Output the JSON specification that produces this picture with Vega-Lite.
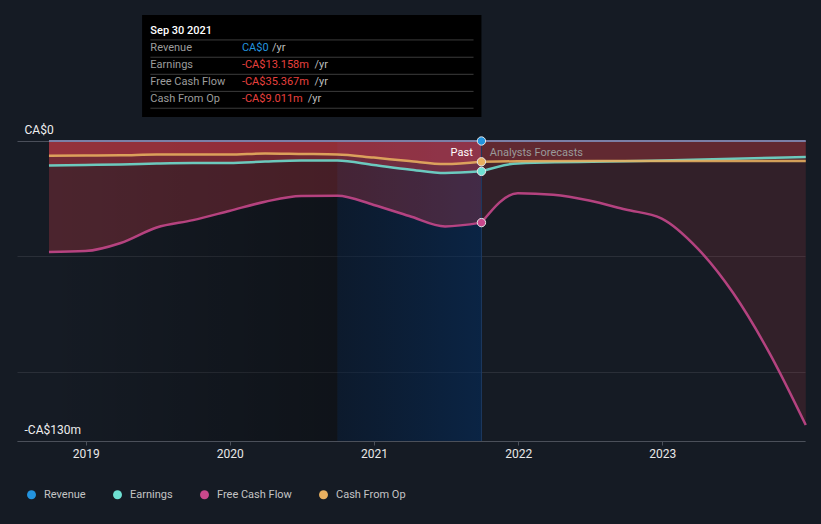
{
  "$schema": "https://vega.github.io/schema/vega-lite/v6.json",
  "width": 788,
  "height": 426,
  "autosize": "none",
  "padding": {"left": 17, "top": 15, "right": 16, "bottom": 83},
  "background": "#151b24",
  "config": {
    "view": {"stroke": null},
    "font": "Roboto",
    "text": {"font": "Roboto"}
  },
  "datasets": {
    "series": [
      {"date": "2018-09-30", "series": "Free Cash Flow", "value": -48.1, "phase": "past"},
      {"date": "2018-12-31", "series": "Free Cash Flow", "value": -47.7, "phase": "past"},
      {"date": "2019-03-31", "series": "Free Cash Flow", "value": -44.2, "phase": "past"},
      {"date": "2019-06-30", "series": "Free Cash Flow", "value": -37.5, "phase": "past"},
      {"date": "2019-09-30", "series": "Free Cash Flow", "value": -34.3, "phase": "past"},
      {"date": "2019-12-31", "series": "Free Cash Flow", "value": -30.3, "phase": "past"},
      {"date": "2020-03-31", "series": "Free Cash Flow", "value": -26.3, "phase": "past"},
      {"date": "2020-06-30", "series": "Free Cash Flow", "value": -23.8, "phase": "past"},
      {"date": "2020-09-30", "series": "Free Cash Flow", "value": -23.7, "phase": "past"},
      {"date": "2020-12-31", "series": "Free Cash Flow", "value": -27.7, "phase": "past"},
      {"date": "2021-03-31", "series": "Free Cash Flow", "value": -32.5, "phase": "past"},
      {"date": "2021-06-30", "series": "Free Cash Flow", "value": -37.0, "phase": "past"},
      {"date": "2021-09-30", "series": "Free Cash Flow", "value": -35.367, "phase": "past"},
      {"date": "2018-09-30", "series": "Earnings", "value": -10.6, "phase": "past"},
      {"date": "2018-12-31", "series": "Earnings", "value": -10.4, "phase": "past"},
      {"date": "2019-03-31", "series": "Earnings", "value": -10.2, "phase": "past"},
      {"date": "2019-06-30", "series": "Earnings", "value": -9.75, "phase": "past"},
      {"date": "2019-09-30", "series": "Earnings", "value": -9.5, "phase": "past"},
      {"date": "2019-12-31", "series": "Earnings", "value": -9.5, "phase": "past"},
      {"date": "2020-03-31", "series": "Earnings", "value": -8.9, "phase": "past"},
      {"date": "2020-06-30", "series": "Earnings", "value": -8.5, "phase": "past"},
      {"date": "2020-09-30", "series": "Earnings", "value": -8.5, "phase": "past"},
      {"date": "2020-12-31", "series": "Earnings", "value": -10.4, "phase": "past"},
      {"date": "2021-03-31", "series": "Earnings", "value": -12.3, "phase": "past"},
      {"date": "2021-06-30", "series": "Earnings", "value": -13.9, "phase": "past"},
      {"date": "2021-09-30", "series": "Earnings", "value": -13.158, "phase": "past"},
      {"date": "2018-09-30", "series": "Cash From Op", "value": -6.4, "phase": "past"},
      {"date": "2018-12-31", "series": "Cash From Op", "value": -6.3, "phase": "past"},
      {"date": "2019-03-31", "series": "Cash From Op", "value": -6.2, "phase": "past"},
      {"date": "2019-06-30", "series": "Cash From Op", "value": -5.85, "phase": "past"},
      {"date": "2019-09-30", "series": "Cash From Op", "value": -5.85, "phase": "past"},
      {"date": "2019-12-31", "series": "Cash From Op", "value": -5.9, "phase": "past"},
      {"date": "2020-03-31", "series": "Cash From Op", "value": -5.4, "phase": "past"},
      {"date": "2020-06-30", "series": "Cash From Op", "value": -5.6, "phase": "past"},
      {"date": "2020-09-30", "series": "Cash From Op", "value": -5.8, "phase": "past"},
      {"date": "2020-12-31", "series": "Cash From Op", "value": -7.2, "phase": "past"},
      {"date": "2021-03-31", "series": "Cash From Op", "value": -8.7, "phase": "past"},
      {"date": "2021-06-30", "series": "Cash From Op", "value": -10.0, "phase": "past"},
      {"date": "2021-09-30", "series": "Cash From Op", "value": -9.011, "phase": "past"},
      {"date": "2018-09-30", "series": "Revenue", "value": 0, "phase": "past"},
      {"date": "2021-09-30", "series": "Revenue", "value": 0, "phase": "past"},
      {"date": "2021-09-30", "series": "Free Cash Flow", "value": -35.367, "phase": "forecast"},
      {"date": "2021-12-31", "series": "Free Cash Flow", "value": -22.6, "phase": "forecast"},
      {"date": "2022-03-31", "series": "Free Cash Flow", "value": -23.3, "phase": "forecast"},
      {"date": "2022-06-30", "series": "Free Cash Flow", "value": -25.8, "phase": "forecast"},
      {"date": "2022-09-30", "series": "Free Cash Flow", "value": -29.7, "phase": "forecast"},
      {"date": "2022-12-31", "series": "Free Cash Flow", "value": -33.6, "phase": "forecast"},
      {"date": "2023-03-31", "series": "Free Cash Flow", "value": -46.4, "phase": "forecast"},
      {"date": "2023-06-30", "series": "Free Cash Flow", "value": -65.9, "phase": "forecast"},
      {"date": "2023-09-30", "series": "Free Cash Flow", "value": -91.9, "phase": "forecast"},
      {"date": "2023-12-31", "series": "Free Cash Flow", "value": -123.1, "phase": "forecast"},
      {"date": "2021-09-30", "series": "Earnings", "value": -13.158, "phase": "forecast"},
      {"date": "2021-12-31", "series": "Earnings", "value": -9.7, "phase": "forecast"},
      {"date": "2022-12-31", "series": "Earnings", "value": -8.5, "phase": "forecast"},
      {"date": "2023-12-31", "series": "Earnings", "value": -6.9, "phase": "forecast"},
      {"date": "2021-09-30", "series": "Cash From Op", "value": -9.011, "phase": "forecast"},
      {"date": "2021-12-31", "series": "Cash From Op", "value": -8.8, "phase": "forecast"},
      {"date": "2022-12-31", "series": "Cash From Op", "value": -8.7, "phase": "forecast"},
      {"date": "2023-12-31", "series": "Cash From Op", "value": -8.7, "phase": "forecast"},
      {"date": "2021-09-30", "series": "Revenue", "value": 0, "phase": "forecast"},
      {"date": "2023-12-31", "series": "Revenue", "value": 0, "phase": "forecast"}
    ],
    "current": [
      {"date": "2021-09-30", "series": "Revenue", "value": 0},
      {"date": "2021-09-30", "series": "Earnings", "value": -13.158},
      {"date": "2021-09-30", "series": "Free Cash Flow", "value": -35.367},
      {"date": "2021-09-30", "series": "Cash From Op", "value": -9.011}
    ],
    "tipText": [
      {"x": "2019-06-14", "y": 47.8, "text": "Sep 30 2021", "kind": "title"},
      {"x": "2019-06-14", "y": 40.2, "text": "Revenue", "kind": "label"},
      {"x": "2019-06-14", "y": 32.9, "text": "Earnings", "kind": "label"},
      {"x": "2019-06-14", "y": 25.6, "text": "Free Cash Flow", "kind": "label"},
      {"x": "2019-06-14", "y": 18.3, "text": "Cash From Op", "kind": "label"},
      {"x": "2020-02-01", "y": 40.2, "text": "CA$0", "kind": "pos"},
      {"x": "2020-02-01", "y": 32.9, "text": "-CA$13.158m", "kind": "neg"},
      {"x": "2020-02-01", "y": 25.6, "text": "-CA$35.367m", "kind": "neg"},
      {"x": "2020-02-01", "y": 18.3, "text": "-CA$9.011m", "kind": "neg"},
      {"x": "2020-04-17", "y": 40.2, "text": "/yr", "kind": "unit"},
      {"x": "2020-08-03", "y": 32.9, "text": "/yr", "kind": "unit"},
      {"x": "2020-08-03", "y": 25.6, "text": "/yr", "kind": "unit"},
      {"x": "2020-07-17", "y": 18.3, "text": "/yr", "kind": "unit"}
    ],
    "tipLines": [
      {"x": "2019-06-14", "x2": "2021-09-10", "y": 43.8},
      {"x": "2019-06-14", "x2": "2021-09-10", "y": 36.3},
      {"x": "2019-06-14", "x2": "2021-09-10", "y": 28.9},
      {"x": "2019-06-14", "x2": "2021-09-10", "y": 21.5},
      {"x": "2019-06-14", "x2": "2021-09-10", "y": 14.2}
    ]
  },
  "layer": [
    {
      "data": {"values": [{"start": "2018-09-30", "end": "2020-09-30"}]},
      "mark": {"type": "rect", "fill": {"gradient": "linear", "x1": 0, "y1": 0, "x2": 1, "y2": 0, "stops": [{"offset": 0, "color": "rgba(0,0,0,0)"}, {"offset": 1, "color": "rgba(0,0,0,0.3)"}]}},
      "encoding": {
        "x": {"field": "start", "type": "temporal", "title": null,
          "scale": {"domain": [{"year": 2018, "month": 7, "date": 11}, {"year": 2023, "month": 12, "date": 29}]},
          "axis": {"title": null, "format": "%Y", "tickCount": {"interval": "year", "step": 1}, "grid": false, "domainColor": "#4b505a", "tickColor": "#4b505a", "tickSize": 4, "labelColor": "#e8e8e8", "labelFontSize": 12, "labelPadding": 3, "labelFont": "Roboto", "labelFlush": false}},
        "x2": {"field": "end"},
        "y": {"datum": 0, "type": "quantitative", "title": null,
          "scale": {"domain": [-130, 54.6], "nice": false, "zero": false},
          "axis": {"title": null, "values": [0, -50, -100, -130], "domain": false, "ticks": false, "tickSize": 0, "grid": true,
            "gridColor": {"condition": {"test": "datum.value === 0", "value": "#4a4f5a"}, "value": "#2a2f38"},
            "labelExpr": "datum.value === 0 ? 'CA$0' : (datum.value === -130 ? '-CA$130m' : '')",
            "labelAlign": "left", "labelPadding": -7, "labelBaseline": "middle", "labelOffset": -12,
            "labelColor": "#f0f0f0", "labelFontSize": 12, "labelFont": "Roboto", "labelOverlap": false}},
        "y2": {"datum": -130}
      }
    },
    {
      "data": {"values": [{"start": "2020-09-30", "end": "2021-09-30"}]},
      "mark": {"type": "rect", "fill": {"gradient": "linear", "x1": 0, "y1": 0, "x2": 1, "y2": 0, "stops": [{"offset": 0, "color": "rgba(2,25,55,0.45)"}, {"offset": 1, "color": "rgba(0,45,100,0.5)"}]}},
      "encoding": {
        "x": {"field": "start", "type": "temporal", "title": null},
        "x2": {"field": "end"},
        "y": {"datum": 0, "type": "quantitative", "title": null},
        "y2": {"datum": -130}
      }
    },
    {
      "data": {"name": "series"},
      "transform": [{"filter": "datum.series !== 'Revenue'"}],
      "mark": {"type": "area", "interpolate": "monotone", "color": "#ff4550"},
      "encoding": {
        "x": {"field": "date", "type": "temporal", "title": null},
        "y": {"field": "value", "type": "quantitative", "title": null},
        "y2": {"datum": 0},
        "detail": [{"field": "series"}, {"field": "phase"}],
        "opacity": {"field": "phase", "type": "nominal", "scale": {"domain": ["past", "forecast"], "range": [0.23, 0.125]}, "legend": null}
      }
    },
    {
      "data": {"values": [{"date": "2021-09-30"}]},
      "mark": {"type": "rule", "color": "#1d3a62", "strokeWidth": 1},
      "encoding": {
        "x": {"field": "date", "type": "temporal", "title": null},
        "y": {"datum": 0, "type": "quantitative", "title": null},
        "y2": {"datum": -130}
      }
    },
    {
      "data": {"name": "series"},
      "transform": [{"filter": "datum.series === 'Revenue'"}],
      "mark": {"type": "line", "color": "#7b7fa6", "strokeWidth": 2},
      "encoding": {
        "x": {"field": "date", "type": "temporal", "title": null},
        "y": {"field": "value", "type": "quantitative", "title": null},
        "detail": {"field": "phase"}
      }
    },
    {
      "data": {"name": "series"},
      "transform": [{"filter": "datum.series !== 'Revenue'"}],
      "mark": {"type": "line", "interpolate": "monotone", "strokeWidth": 2.5, "strokeOpacity": 0.88},
      "encoding": {
        "x": {"field": "date", "type": "temporal", "title": null},
        "y": {"field": "value", "type": "quantitative", "title": null},
        "detail": {"field": "phase"},
        "color": {"field": "series", "type": "nominal", "title": null,
          "scale": {"domain": ["Revenue", "Earnings", "Free Cash Flow", "Cash From Op"], "range": ["#2394df", "#6ee0d2", "#c8488c", "#e8b060"]},
          "legend": {"title": null, "orient": "none", "direction": "horizontal", "legendX": 9, "legendY": 474,
            "symbolType": "circle", "symbolSize": 80, "symbolStrokeWidth": 0, "symbolOpacity": 1,
            "labelColor": "#c4c4c4", "labelFontSize": 11, "labelFont": "Roboto", "labelOffset": 7, "columnPadding": 26}}
      }
    },
    {
      "data": {"values": [{"x": "2021-09-08", "y": -5.3, "text": "Past"}]},
      "mark": {"type": "text", "align": "right", "baseline": "middle", "fontSize": 11, "color": "#ffffff", "font": "Roboto"},
      "encoding": {
        "x": {"field": "x", "type": "temporal", "title": null},
        "y": {"field": "y", "type": "quantitative", "title": null},
        "text": {"field": "text"}
      }
    },
    {
      "data": {"values": [{"x": "2021-10-21", "y": -5.3, "text": "Analysts Forecasts"}]},
      "mark": {"type": "text", "align": "left", "baseline": "middle", "fontSize": 11, "color": "#9a9a9a", "font": "Roboto"},
      "encoding": {
        "x": {"field": "x", "type": "temporal", "title": null},
        "y": {"field": "y", "type": "quantitative", "title": null},
        "text": {"field": "text"}
      }
    },
    {
      "data": {"name": "current"},
      "mark": {"type": "point", "filled": true, "size": 70, "stroke": "#e6e6e6", "strokeWidth": 1, "opacity": 1},
      "encoding": {
        "x": {"field": "date", "type": "temporal", "title": null},
        "y": {"field": "value", "type": "quantitative", "title": null},
        "fill": {"field": "series", "type": "nominal", "legend": null,
          "scale": {"domain": ["Revenue", "Earnings", "Free Cash Flow", "Cash From Op"], "range": ["#2394df", "#6ee0d2", "#c8488c", "#e8b060"]}}
      }
    },
    {
      "data": {"values": [{"x": "2019-05-24", "x2": "2021-09-30", "y": 54.6, "y2": 10.4}]},
      "mark": {"type": "rect", "color": "#000000"},
      "encoding": {
        "x": {"field": "x", "type": "temporal", "title": null},
        "x2": {"field": "x2"},
        "y": {"field": "y", "type": "quantitative", "title": null},
        "y2": {"field": "y2"}
      }
    },
    {
      "data": {"name": "tipLines"},
      "mark": {"type": "rule", "color": "#3c3c3c", "strokeWidth": 1},
      "encoding": {
        "x": {"field": "x", "type": "temporal", "title": null},
        "x2": {"field": "x2"},
        "y": {"field": "y", "type": "quantitative", "title": null}
      }
    },
    {
      "data": {"name": "tipText"},
      "transform": [{"filter": "datum.kind === 'title'"}],
      "mark": {"type": "text", "align": "left", "baseline": "middle", "fontSize": 11, "fontWeight": 500, "color": "#ffffff", "font": "Roboto"},
      "encoding": {"x": {"field": "x", "type": "temporal", "title": null}, "y": {"field": "y", "type": "quantitative", "title": null}, "text": {"field": "text"}}
    },
    {
      "data": {"name": "tipText"},
      "transform": [{"filter": "datum.kind === 'label'"}],
      "mark": {"type": "text", "align": "left", "baseline": "middle", "fontSize": 11, "color": "#9c9c9c", "font": "Roboto"},
      "encoding": {"x": {"field": "x", "type": "temporal", "title": null}, "y": {"field": "y", "type": "quantitative", "title": null}, "text": {"field": "text"}}
    },
    {
      "data": {"name": "tipText"},
      "transform": [{"filter": "datum.kind === 'pos'"}],
      "mark": {"type": "text", "align": "left", "baseline": "middle", "fontSize": 11, "color": "#2394df", "font": "Roboto"},
      "encoding": {"x": {"field": "x", "type": "temporal", "title": null}, "y": {"field": "y", "type": "quantitative", "title": null}, "text": {"field": "text"}}
    },
    {
      "data": {"name": "tipText"},
      "transform": [{"filter": "datum.kind === 'neg'"}],
      "mark": {"type": "text", "align": "left", "baseline": "middle", "fontSize": 11, "color": "#e8403e", "font": "Roboto"},
      "encoding": {"x": {"field": "x", "type": "temporal", "title": null}, "y": {"field": "y", "type": "quantitative", "title": null}, "text": {"field": "text"}}
    },
    {
      "data": {"name": "tipText"},
      "transform": [{"filter": "datum.kind === 'unit'"}],
      "mark": {"type": "text", "align": "left", "baseline": "middle", "fontSize": 11, "color": "#bdbdbd", "font": "Roboto"},
      "encoding": {"x": {"field": "x", "type": "temporal", "title": null}, "y": {"field": "y", "type": "quantitative", "title": null}, "text": {"field": "text"}}
    }
  ]
}
